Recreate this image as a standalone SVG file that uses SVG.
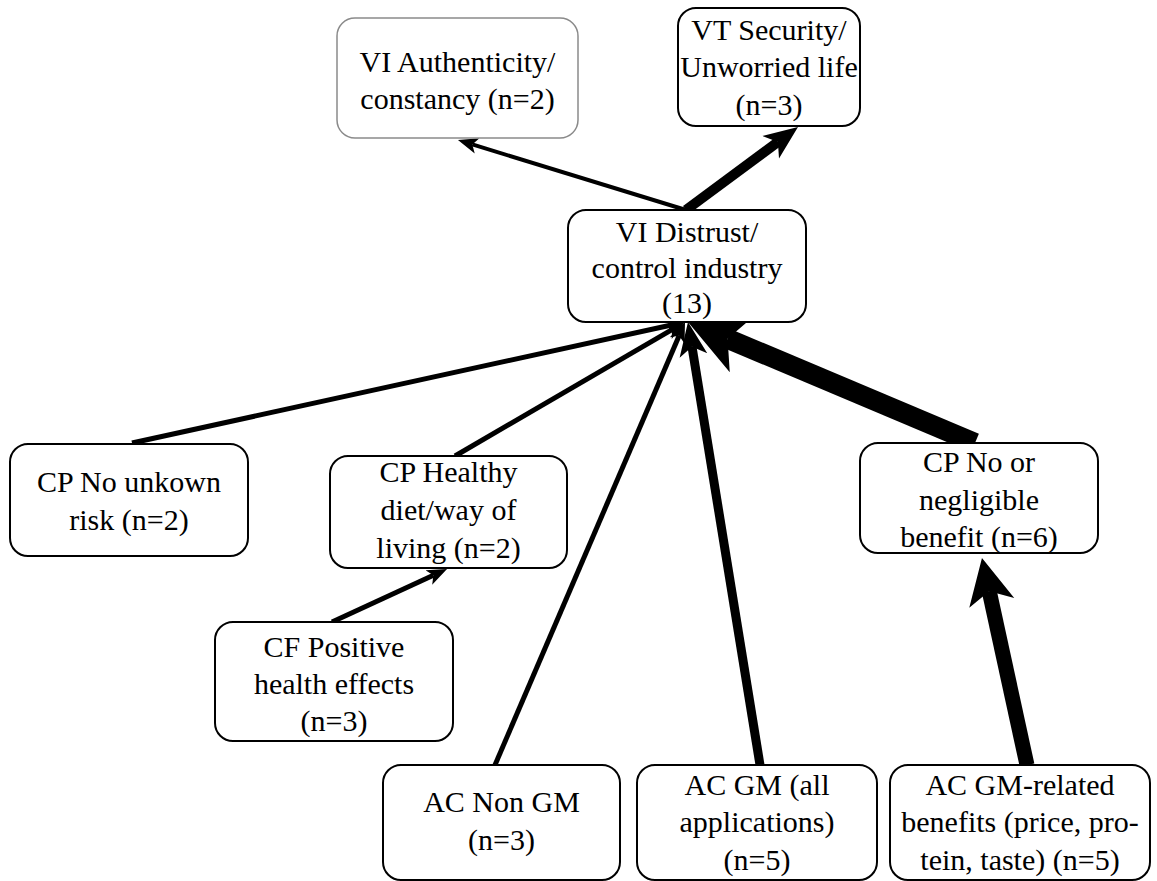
<svg xmlns="http://www.w3.org/2000/svg" width="1157" height="881" viewBox="0 0 1157 881">
<style>
.box{fill:#fff;stroke:#000;stroke-width:2}
.gray{stroke:#8a8a8a;stroke-width:1.5}
.t{font-size:30px;fill:#000;text-anchor:middle}
.c{fill:none;stroke:#000;stroke-linecap:butt}
</style>
<defs>
<marker id="hs" markerUnits="userSpaceOnUse" markerWidth="24" markerHeight="20" refX="5" refY="10" orient="auto" viewBox="0 0 24 20"><path d="M0,2 L20,10 L0,18 L5,10 Z" fill="#000"/></marker>
<marker id="hm" markerUnits="userSpaceOnUse" markerWidth="36" markerHeight="30" refX="9" refY="15" orient="auto" viewBox="0 0 36 30"><path d="M0,1 L34,15 L0,29 L9,15 Z" fill="#000"/></marker>
<marker id="hl" markerUnits="userSpaceOnUse" markerWidth="48" markerHeight="48" refX="12" refY="24" orient="auto" viewBox="0 0 48 48"><path d="M0,1 L46,24 L0,47 L12,24 Z" fill="#000"/></marker>
<marker id="hx" markerUnits="userSpaceOnUse" markerWidth="60" markerHeight="62" refX="15" refY="31" orient="auto" viewBox="0 0 60 62"><path d="M0,1 L58,31 L0,61 L15,31 Z" fill="#000"/></marker>
</defs>
<rect width="1157" height="881" fill="#fff"/>
<g id="connectors">
<line class="c" x1="686" y1="210" x2="472.3" y2="144.4" stroke-width="4" marker-end="url(#hs)"/>
<line class="c" x1="686" y1="210" x2="777.9" y2="141.9" stroke-width="10" marker-end="url(#hm)"/>
<line class="c" x1="132" y1="443" x2="670.3" y2="325.2" stroke-width="5" marker-end="url(#hs)"/>
<line class="c" x1="455" y1="456" x2="672" y2="329.6" stroke-width="5" marker-end="url(#hs)"/>
<line class="c" x1="332" y1="622" x2="433.4" y2="575.3" stroke-width="5" marker-end="url(#hs)"/>
<line class="c" x1="495" y1="765" x2="679.1" y2="335.8" stroke-width="5" marker-end="url(#hs)"/>
<line class="c" x1="760" y1="765" x2="692" y2="346.7" stroke-width="9" marker-end="url(#hm)"/>
<line class="c" x1="975" y1="443" x2="727.6" y2="338.7" stroke-width="20" marker-end="url(#hx)"/>
<line class="c" x1="1027" y1="765" x2="989.2" y2="591.2" stroke-width="15" marker-end="url(#hl)"/>
</g>
<g id="vi-authenticity" font-family="Liberation Serif"><rect class="box gray" x="337" y="18" width="241" height="120" rx="18"/><text class="t" x="457.5" y="72">VI Authenticity/</text><text class="t" x="457.5" y="109">constancy (n=2)</text></g>
<g id="vt-security" font-family="Liberation Serif"><rect class="box" x="678" y="8" width="182" height="118" rx="18"/><text class="t" x="769" y="40">VT Security/</text><text class="t" x="769" y="77">Unworried life</text><text class="t" x="769" y="115">(n=3)</text></g>
<g id="vi-distrust" font-family="Liberation Serif"><rect class="box" x="568" y="210" width="238" height="112" rx="18"/><text class="t" x="687" y="242">VI Distrust/</text><text class="t" x="687" y="278">control industry</text><text class="t" x="687" y="313">(13)</text></g>
<g id="cp-unknown-risk" font-family="Liberation Serif"><rect class="box" x="10" y="444" width="238" height="112" rx="18"/><text class="t" x="129" y="492">CP No unkown</text><text class="t" x="129" y="530">risk (n=2)</text></g>
<g id="cp-healthy" font-family="Liberation Serif"><rect class="box" x="330" y="456" width="237" height="112" rx="18"/><text class="t" x="448.5" y="482">CP Healthy</text><text class="t" x="448.5" y="520">diet/way of</text><text class="t" x="448.5" y="558">living (n=2)</text></g>
<g id="cf-positive" font-family="Liberation Serif"><rect class="box" x="215" y="622" width="238" height="119" rx="18"/><text class="t" x="334" y="657">CF Positive</text><text class="t" x="334" y="694">health effects</text><text class="t" x="334" y="731">(n=3)</text></g>
<g id="cp-negligible" font-family="Liberation Serif"><rect class="box" x="860" y="443" width="238" height="110" rx="18"/><text class="t" x="979" y="472">CP No or</text><text class="t" x="979" y="510">negligible</text><text class="t" x="979" y="547">benefit (n=6)</text></g>
<g id="ac-non-gm" font-family="Liberation Serif"><rect class="box" x="383" y="765" width="237" height="115" rx="18"/><text class="t" x="501.5" y="812">AC Non GM</text><text class="t" x="501.5" y="850">(n=3)</text></g>
<g id="ac-gm-all" font-family="Liberation Serif"><rect class="box" x="637" y="765" width="240" height="115" rx="18"/><text class="t" x="757" y="795">AC GM (all</text><text class="t" x="757" y="832">applications)</text><text class="t" x="757" y="870">(n=5)</text></g>
<g id="ac-gm-benefits" font-family="Liberation Serif"><rect class="box" x="890" y="765" width="260" height="115" rx="18"/><text class="t" x="1020" y="795">AC GM-related</text><text class="t" x="1020" y="832">benefits (price, pro-</text><text class="t" x="1020" y="870">tein, taste) (n=5)</text></g>
</svg>
